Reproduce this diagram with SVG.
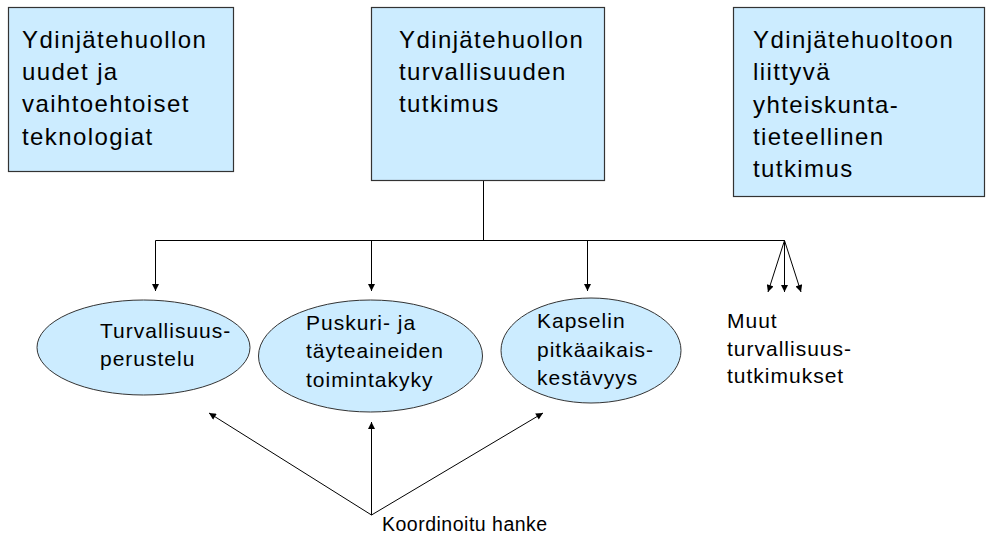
<svg xmlns="http://www.w3.org/2000/svg" width="987" height="535" viewBox="0 0 987 535">
<defs>
<marker id="ah" viewBox="0 0 10 10" refX="10" refY="5" markerWidth="8" markerHeight="7" markerUnits="userSpaceOnUse" orient="auto">
<path d="M0,0 L10,5 L0,10 z" fill="#000"/>
</marker>
<style>
.box{fill:#CCECFF;stroke:#333;stroke-width:1.2}
.ell{fill:#CCECFF;stroke:#333;stroke-width:1}
.bt{font-family:"Liberation Sans",Arial,sans-serif;font-size:24px;letter-spacing:1.4px;fill:#000}
.et{font-family:"Liberation Sans",Arial,sans-serif;font-size:21px;letter-spacing:1px;fill:#000}
.kt{font-family:"Liberation Sans",Arial,sans-serif;font-size:19.5px;letter-spacing:0.5px;fill:#000}
.ln{stroke:#000;stroke-width:1;fill:none}
.ar{stroke:#000;stroke-width:1;fill:none;marker-end:url(#ah)}
</style>
</defs>
<rect width="987" height="535" fill="#fff"/>
<g id="connectors">
<path class="ln" d="M483.5,180 V240.5 M155.5,240.5 H784.5"/>
<line class="ar" x1="155.5" y1="240.5" x2="155.5" y2="291"/>
<line class="ar" x1="371.5" y1="240.5" x2="371.5" y2="291"/>
<line class="ar" x1="587.5" y1="240.5" x2="587.5" y2="291"/>
<line class="ar" x1="784.5" y1="240.5" x2="768" y2="292"/>
<line class="ar" x1="784.5" y1="240.5" x2="784.5" y2="292"/>
<line class="ar" x1="784.5" y1="240.5" x2="801" y2="292"/>
<line class="ar" x1="371.5" y1="515" x2="209" y2="413"/>
<line class="ar" x1="371.5" y1="515" x2="371.5" y2="422"/>
<line class="ar" x1="371.5" y1="515" x2="543" y2="413"/>
</g>
<g id="box1">
<rect class="box" x="8.5" y="7.5" width="225" height="164"/>
<text class="bt" x="22" y="48">Ydinjätehuollon</text>
<text class="bt" x="22" y="80">uudet ja</text>
<text class="bt" x="22" y="112">vaihtoehtoiset</text>
<text class="bt" x="22" y="145">teknologiat</text>
</g>
<g id="box2">
<rect class="box" x="371.5" y="7.5" width="233" height="173"/>
<text class="bt" x="399" y="48">Ydinjätehuollon</text>
<text class="bt" x="399" y="80">turvallisuuden</text>
<text class="bt" x="399" y="112">tutkimus</text>
</g>
<g id="box3">
<rect class="box" x="733.5" y="7.5" width="251" height="189"/>
<text class="bt" x="753" y="48">Ydinjätehuoltoon</text>
<text class="bt" x="753" y="80">liittyvä</text>
<text class="bt" x="753" y="113">yhteiskunta-</text>
<text class="bt" x="753" y="145">tieteellinen</text>
<text class="bt" x="753" y="177">tutkimus</text>
</g>
<g id="ell1">
<ellipse class="ell" cx="143.5" cy="347.5" rx="106.5" ry="47.5"/>
<text class="et" x="100" y="338">Turvallisuus-</text>
<text class="et" x="100" y="366">perustelu</text>
</g>
<g id="ell2">
<ellipse class="ell" cx="370.5" cy="356" rx="112" ry="56"/>
<text class="et" x="306" y="330" letter-spacing="1.2">Puskuri- ja</text>
<text class="et" x="306" y="358" letter-spacing="1.2">täyteaineiden</text>
<text class="et" x="306" y="387" letter-spacing="1.2">toimintakyky</text>
</g>
<g id="ell3">
<ellipse class="ell" cx="591" cy="350.5" rx="90" ry="52.5"/>
<text class="et" x="537" y="328">Kapselin</text>
<text class="et" x="537" y="357">pitkäaikais-</text>
<text class="et" x="537" y="385">kestävyys</text>
</g>
<g id="muut">
<text class="et" x="727" y="328">Muut</text>
<text class="et" x="727" y="356">turvallisuus-</text>
<text class="et" x="727" y="383">tutkimukset</text>
</g>
<g id="koord">
<text class="kt" x="382" y="531">Koordinoitu hanke</text>
</g>
</svg>
